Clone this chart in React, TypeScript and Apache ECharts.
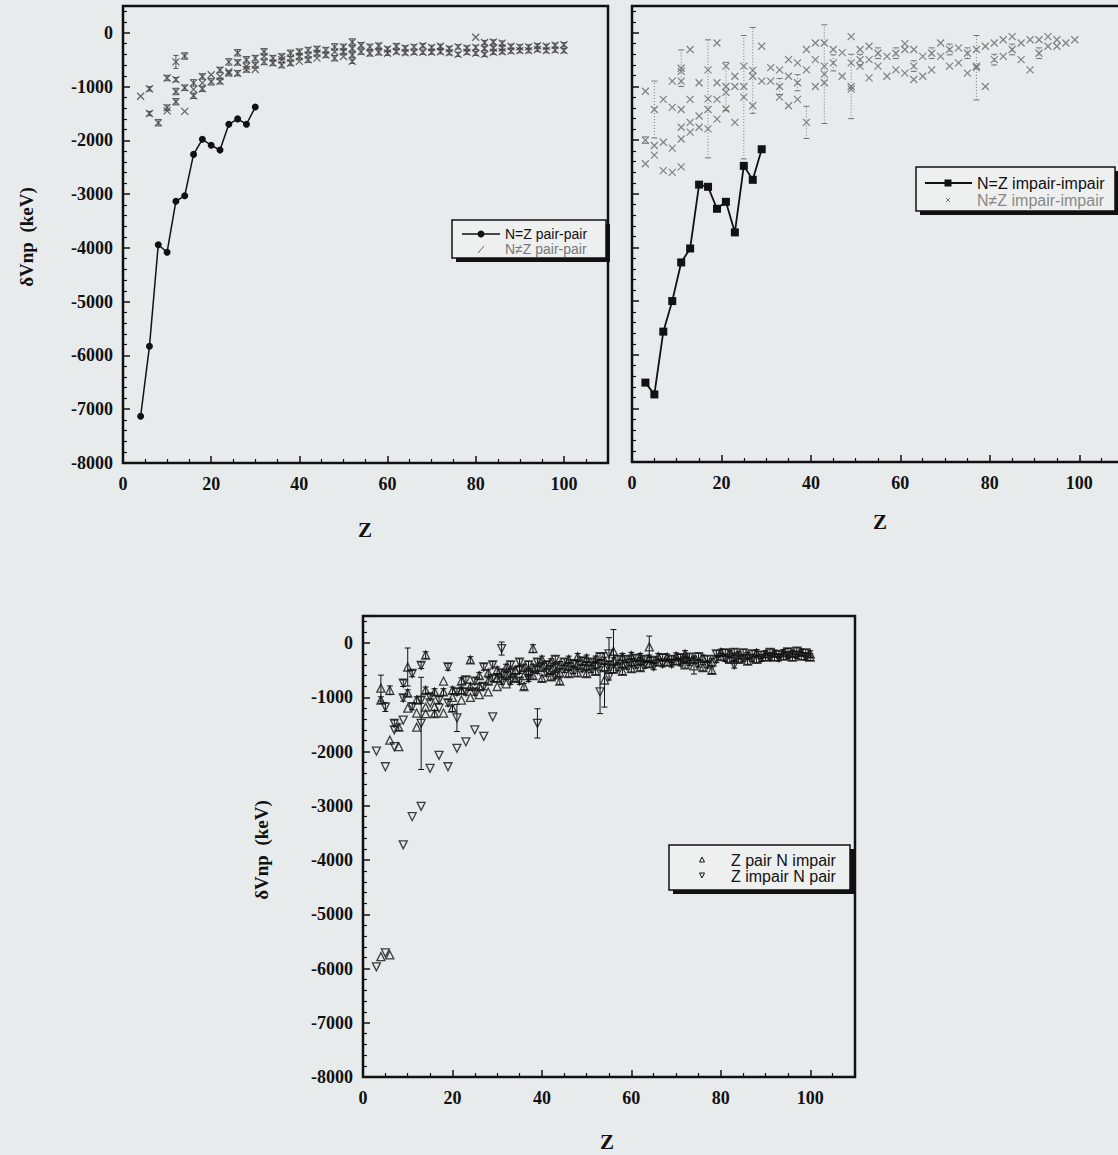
import React, { useEffect, useRef } from "react";
import * as echarts from "echarts";

// ---------- DATA ----------
// Panel 1: N=Z even-even (line)
const p1LineZ = [4, 6, 8, 10, 12, 14, 16, 18, 20, 22, 24, 26, 28, 30];
const p1LineV = [-7130, -5830, -3940, -4080, -3130, -3030, -2260, -1980, -2090, -2180, -1700, -1600, -1700, -1380];
// Panel 1: N≠Z even-even [Z, value, err]
const p1Other: number[][] = [
  [4, -1180, 0], [6, -1040, 40], [6, -1500, 40], [8, -1670, 60], [10, -840, 50], [10, -1390, 50], [10, -1450, 0],
  [12, -540, 120], [12, -870, 40], [12, -1090, 60], [12, -1280, 60], [14, -430, 60], [14, -1020, 50], [14, -1460, 0],
  [16, -930, 60], [16, -1050, 0], [16, -1170, 50], [18, -810, 50], [18, -930, 0], [18, -1040, 50], [20, -910, 60], [20, -780, 0],
  [22, -690, 50], [22, -810, 0], [22, -900, 50], [24, -540, 60], [24, -720, 0], [24, -750, 50], [26, -370, 60], [26, -550, 50], [26, -750, 50],
  [28, -500, 60], [28, -620, 0], [28, -680, 50], [30, -470, 50], [30, -600, 50], [30, -680, 0], [32, -350, 60], [32, -440, 0], [32, -540, 50],
  [34, -470, 50], [34, -560, 50], [36, -440, 50], [36, -500, 0], [36, -600, 50], [38, -380, 60], [38, -470, 0], [38, -560, 50],
  [40, -350, 50], [40, -440, 50], [40, -530, 0], [42, -320, 50], [42, -410, 0], [42, -500, 50], [44, -300, 50], [44, -380, 50], [44, -470, 0],
  [46, -320, 50], [46, -410, 50], [48, -260, 60], [48, -350, 0], [48, -470, 50], [50, -260, 50], [50, -350, 50], [50, -440, 0],
  [52, -170, 60], [52, -290, 50], [52, -410, 50], [52, -530, 40], [54, -230, 50], [54, -350, 50], [56, -260, 50], [56, -380, 50],
  [58, -240, 50], [58, -360, 50], [60, -300, 40], [60, -380, 40], [62, -250, 50], [62, -350, 40], [64, -280, 40], [64, -370, 40],
  [66, -260, 40], [66, -360, 40], [68, -240, 40], [68, -360, 40], [70, -270, 40], [70, -360, 40], [72, -250, 40], [72, -350, 40],
  [74, -290, 40], [74, -370, 40], [76, -260, 40], [76, -400, 40], [78, -280, 40], [78, -360, 40], [80, -80, 0], [80, -270, 40], [80, -380, 40],
  [82, -180, 40], [82, -290, 40], [82, -400, 40], [84, -170, 40], [84, -280, 40], [84, -360, 40], [86, -190, 40], [86, -280, 40], [86, -350, 40],
  [88, -250, 40], [88, -340, 40], [90, -260, 40], [90, -330, 40], [92, -260, 40], [92, -330, 40], [94, -240, 40], [94, -310, 40],
  [96, -250, 40], [96, -330, 40], [98, -230, 40], [98, -320, 40], [100, -220, 40], [100, -330, 40],
];

// Panel 2: N=Z odd-odd (line)
const p2LineZ = [3, 5, 7, 9, 11, 13, 15, 17, 19, 21, 23, 25, 27, 29];
const p2LineV = [-6520, -6740, -5570, -5000, -4280, -4020, -2830, -2870, -3280, -3150, -3720, -2480, -2740, -2170];
// Panel 2: N≠Z odd-odd [Z, value, err]
const p2Other: number[][] = [
  [3, -1090, 0], [3, -2440, 0], [3, -2000, 60],
  [5, -2280, 0], [5, -1430, 530], [5, -2100, 0],
  [7, -1240, 0], [7, -2040, 0], [7, -2570, 0],
  [9, -900, 0], [9, -1390, 0], [9, -2600, 0], [9, -2150, 0],
  [11, -720, 0], [11, -660, 340], [11, -900, 0], [11, -1430, 0], [11, -1760, 0], [11, -1980, 0], [11, -2500, 0],
  [13, -310, 0], [13, -1240, 0], [13, -1670, 0], [13, -1850, 0],
  [15, -930, 0], [15, -1550, 0], [15, -1760, 0],
  [17, -690, 0], [17, -1230, 1100], [17, -1430, 0], [17, -1790, 0],
  [19, -190, 0], [19, -930, 0], [19, -1240, 0], [19, -1610, 0],
  [21, -620, 0], [21, -1000, 450], [21, -1110, 0], [21, -1420, 0],
  [23, -810, 0], [23, -1000, 0], [23, -1670, 0],
  [25, -620, 0], [25, -1200, 1150], [25, -1000, 0],
  [27, -810, 0], [27, -700, 800], [27, -1360, 0],
  [29, -250, 0], [29, -900, 0],
  [31, -650, 0], [31, -900, 0],
  [33, -690, 0], [33, -1000, 150], [33, -1200, 0],
  [35, -500, 0], [35, -810, 0], [35, -1360, 0],
  [37, -560, 0], [37, -930, 150], [37, -1240, 0],
  [39, -310, 0], [39, -690, 0], [39, -1670, 300],
  [41, -190, 0], [41, -500, 0], [41, -1000, 0],
  [43, -190, 0], [43, -770, 920], [43, -620, 0], [43, -930, 0],
  [45, -310, 0], [45, -560, 150],
  [47, -370, 0], [47, -810, 0],
  [49, -70, 0], [49, -1000, 600], [49, -560, 0], [49, -1050, 0],
  [51, -310, 0], [51, -500, 100], [51, -620, 0],
  [53, -250, 0], [53, -500, 0], [53, -840, 0],
  [55, -380, 100], [55, -620, 0],
  [57, -440, 0], [57, -810, 0],
  [59, -380, 100], [59, -690, 0],
  [61, -200, 0], [61, -310, 0], [61, -750, 0],
  [63, -310, 0], [63, -620, 100], [63, -870, 0],
  [65, -440, 0], [65, -810, 0],
  [67, -380, 100], [67, -690, 0],
  [69, -190, 0], [69, -440, 0],
  [71, -310, 100], [71, -620, 0],
  [73, -280, 0], [73, -560, 0],
  [75, -380, 100], [75, -750, 0],
  [77, -650, 600], [77, -310, 0], [77, -620, 0],
  [79, -250, 0], [79, -1000, 0],
  [81, -190, 0], [81, -500, 100],
  [83, -130, 0], [83, -440, 0],
  [85, -70, 0], [85, -310, 100],
  [87, -190, 0], [87, -500, 0],
  [89, -130, 0], [89, -690, 0],
  [91, -130, 0], [91, -380, 100],
  [93, -70, 0], [93, -250, 0],
  [95, -130, 0], [95, -250, 0],
  [97, -190, 0],
  [99, -130, 0],
];

// Panel 3: Z even N odd (triangle up) [Z, value, err]
const p3ZpairNimpair: number[][] = [
  [4, -5780, 0], [4, -1050, 60], [4, -830, 240],
  [6, -5750, 0], [6, -870, 80], [6, -1790, 0],
  [8, -1550, 60], [8, -1910, 0],
  [10, -440, 350], [10, -920, 60], [10, -1200, 0],
  [12, -1550, 0], [12, -1050, 60], [12, -1290, 0],
  [14, -220, 60], [14, -870, 60], [14, -1180, 0], [14, -1300, 0],
  [16, -1170, 0], [16, -900, 60], [16, -1300, 60],
  [18, -1290, 0], [18, -900, 60], [18, -700, 0],
  [20, -870, 60], [20, -1000, 0], [20, -1200, 60],
  [22, -870, 60], [22, -1050, 0], [22, -700, 60],
  [24, -310, 60], [24, -800, 60], [24, -1000, 0],
  [26, -600, 60], [26, -800, 60], [26, -950, 0],
  [28, -550, 60], [28, -700, 60], [28, -900, 0],
  [30, -500, 60], [30, -650, 60], [30, -800, 0],
  [32, -450, 60], [32, -600, 60], [32, -750, 0],
  [34, -500, 60], [34, -650, 60],
  [36, -800, 60], [36, -450, 60], [36, -600, 0],
  [38, -100, 70], [38, -450, 60], [38, -600, 60],
  [40, -300, 60], [40, -450, 60], [40, -650, 60],
  [42, -350, 60], [42, -500, 60], [42, -620, 60],
  [44, -400, 60], [44, -550, 60], [44, -700, 60],
  [46, -300, 60], [46, -420, 60], [46, -560, 60],
  [48, -250, 60], [48, -400, 60], [48, -550, 60],
  [50, -280, 60], [50, -420, 60], [50, -560, 60],
  [52, -300, 60], [52, -400, 60], [52, -520, 60],
  [54, -320, 60], [54, -450, 60], [54, -680, 500],
  [56, -150, 400], [56, -330, 60], [56, -480, 60],
  [58, -250, 60], [58, -380, 60], [58, -520, 60],
  [60, -230, 60], [60, -350, 60], [60, -470, 60],
  [62, -250, 60], [62, -330, 60], [62, -450, 60],
  [64, -70, 200], [64, -280, 60], [64, -380, 60],
  [66, -250, 60], [66, -350, 60],
  [68, -260, 60], [68, -350, 60],
  [70, -240, 60], [70, -330, 60],
  [72, -200, 60], [72, -300, 60], [72, -400, 60],
  [74, -300, 60], [74, -420, 150],
  [76, -280, 60], [76, -450, 60],
  [78, -350, 60], [78, -500, 60],
  [80, -170, 60], [80, -250, 60],
  [82, -200, 60], [82, -300, 60],
  [84, -220, 60], [84, -300, 60],
  [86, -230, 60], [86, -330, 60],
  [88, -180, 60], [88, -300, 60],
  [90, -200, 60], [90, -260, 60],
  [92, -190, 60], [92, -260, 60],
  [94, -180, 60], [94, -240, 60],
  [96, -190, 60], [96, -260, 60],
  [98, -170, 60], [98, -240, 60],
  [100, -200, 60], [100, -260, 60],
];
// Panel 3: Z odd N even (triangle down) [Z, value, err]
const p3ZimpairNpair: number[][] = [
  [3, -5970, 0], [3, -1990, 0],
  [5, -5710, 0], [5, -2280, 0], [5, -1180, 80],
  [7, -1480, 60], [7, -1600, 0], [7, -1910, 0],
  [9, -3720, 0], [9, -740, 60], [9, -1010, 60], [9, -1420, 0],
  [11, -3200, 0], [11, -1170, 60], [11, -560, 60],
  [13, -3010, 0], [13, -410, 60], [13, -1480, 850], [13, -1050, 60],
  [15, -2310, 0], [15, -990, 60], [15, -1100, 0],
  [17, -2070, 0], [17, -1050, 60], [17, -1200, 0],
  [19, -2280, 0], [19, -440, 60], [19, -1100, 60],
  [21, -1940, 0], [21, -1380, 250], [21, -900, 60],
  [23, -1820, 0], [23, -680, 60], [23, -900, 60],
  [25, -1600, 0], [25, -700, 60], [25, -900, 60],
  [27, -1720, 0], [27, -440, 60], [27, -800, 60],
  [29, -1360, 0], [29, -400, 60], [29, -650, 60],
  [31, -100, 120], [31, -550, 60], [31, -700, 60],
  [33, -400, 60], [33, -550, 60], [33, -700, 60],
  [35, -350, 60], [35, -500, 60], [35, -700, 60],
  [37, -400, 60], [37, -550, 60], [37, -650, 60],
  [39, -1480, 270], [39, -350, 60], [39, -500, 60],
  [41, -400, 60], [41, -550, 60],
  [43, -300, 60], [43, -450, 60], [43, -600, 60],
  [45, -350, 60], [45, -480, 60],
  [47, -380, 60], [47, -500, 60],
  [49, -330, 60], [49, -470, 60],
  [51, -350, 60], [51, -480, 60],
  [53, -250, 60], [53, -380, 60], [53, -900, 400],
  [55, -200, 300], [55, -400, 60], [55, -620, 60],
  [57, -300, 60], [57, -450, 60],
  [59, -300, 60], [59, -420, 60],
  [61, -280, 60], [61, -400, 60],
  [63, -300, 60], [63, -400, 60],
  [65, -320, 60], [65, -430, 60],
  [67, -270, 60], [67, -380, 60],
  [69, -300, 60], [69, -380, 60],
  [71, -270, 60], [71, -360, 60],
  [73, -260, 60], [73, -350, 60],
  [75, -250, 60], [75, -380, 60],
  [77, -300, 60], [77, -400, 60],
  [79, -200, 60], [79, -300, 60],
  [81, -180, 60], [81, -280, 60],
  [83, -170, 60], [83, -260, 60], [83, -400, 60],
  [85, -180, 60], [85, -280, 60],
  [87, -200, 60], [87, -280, 60],
  [89, -220, 60], [89, -280, 60],
  [91, -170, 60], [91, -250, 60],
  [93, -210, 60], [93, -270, 60],
  [95, -160, 60], [95, -230, 60],
  [97, -150, 60], [97, -220, 60],
  [99, -180, 60], [99, -250, 60],
];

const xTicks = [0, 20, 40, 60, 80, 100];
const yTicks = [0, -1000, -2000, -3000, -4000, -5000, -6000, -7000, -8000];

// ---------- STYLE ----------
const PAPER = "#e8ebeb";
const INK = "#111";
const SERIF = '"Liberation Serif", "DejaVu Serif", serif';
const SANS = '"Liberation Sans", Arial, sans-serif';
const CROSS = "path://M0,0L10,10M10,0L0,10";

function mkX(gi: number) {
  return {
    type: "value", gridIndex: gi, min: 0, max: 110, interval: 20,
    axisLine: { show: true, onZero: false, lineStyle: { color: INK, width: 2 } },
    axisTick: { show: true, inside: true, length: 7, lineStyle: { color: INK, width: 1.5 } },
    minorTick: { show: true, splitNumber: 4, length: 4, lineStyle: { color: INK, width: 1.2 } },
    splitLine: { show: false },
    axisLabel: {
      show: true, margin: 12, color: INK, fontFamily: SERIF, fontWeight: "bold", fontSize: 18,
      formatter: (v: number) => (xTicks.indexOf(v) >= 0 ? String(v) : ""),
    },
  };
}
function mkY(gi: number, labels: boolean) {
  return {
    type: "value", gridIndex: gi, min: -8000, max: 500, interval: 1000,
    axisLine: { show: true, onZero: false, lineStyle: { color: INK, width: 2 } },
    axisTick: { show: true, inside: true, length: 7, lineStyle: { color: INK, width: 1.5 } },
    minorTick: { show: true, splitNumber: 5, length: 4, lineStyle: { color: INK, width: 1.2 } },
    splitLine: { show: false },
    axisLabel: {
      show: labels, margin: 10, color: INK, fontFamily: SERIF, fontWeight: "bold", fontSize: 18,
      formatter: (v: number) => (yTicks.indexOf(v) >= 0 ? String(v) : ""),
    },
  };
}

function errSeries(gi: number, data: number[][], color: string, dashed: boolean, cap: number) {
  return {
    type: "custom", xAxisIndex: gi, yAxisIndex: gi, silent: true, z: 2,
    data: data.filter((d) => d[2] > 0).map((d) => [d[0], d[1] - d[2], d[1] + d[2]]),
    encode: { x: 0, y: [1, 2] },
    renderItem: (_p: any, api: any) => {
      const lo = api.coord([api.value(0), api.value(1)]);
      const hi = api.coord([api.value(0), api.value(2)]);
      const style = { stroke: color, lineWidth: 1, lineDash: dashed ? [1, 2] : null, fill: null };
      return {
        type: "group",
        children: [
          { type: "line", shape: { x1: lo[0], y1: lo[1], x2: hi[0], y2: hi[1] }, style },
          { type: "line", shape: { x1: lo[0] - cap, y1: lo[1], x2: lo[0] + cap, y2: lo[1] }, style: { ...style, lineDash: null } },
          { type: "line", shape: { x1: hi[0] - cap, y1: hi[1], x2: hi[0] + cap, y2: hi[1] }, style: { ...style, lineDash: null } },
        ],
      };
    },
  };
}

function legendBox(x: number, y: number, w: number, h: number) {
  return [
    { type: "rect", shape: { x: x + 4, y: y + 4, width: w, height: h }, style: { fill: INK }, z: 50 },
    { type: "rect", shape: { x, y, width: w, height: h }, style: { fill: "#eef0f0", stroke: INK, lineWidth: 1.5 }, z: 51 },
  ];
}
function gText(x: number, y: number, text: string, font: string, fill: string, extra: any = {}) {
  return { type: "text", x, y, z: 52, ...extra, style: { text, font, fill, verticalAlign: "middle", ...(extra.styleExtra || {}) } };
}

export default function App() {
  const ref = useRef<HTMLDivElement>(null);
  useEffect(() => {
    const chart = echarts.init(ref.current!, null, { renderer: "svg" });
    const option: any = {
      animation: false,
      backgroundColor: PAPER,
      grid: [
        { left: 123, top: 6, width: 485, height: 457, show: true, borderColor: INK, borderWidth: 2.5 },
        { left: 632, top: 6, width: 492, height: 456, show: true, borderColor: INK, borderWidth: 2.5 },
        { left: 363, top: 616, width: 492, height: 461, show: true, borderColor: INK, borderWidth: 2.5 },
      ],
      xAxis: [mkX(0), mkX(1), mkX(2)],
      yAxis: [mkY(0, true), mkY(1, false), mkY(2, true)],
      series: [
        errSeries(0, p1Other, "#555", false, 2.5),
        {
          name: "N≠Z pair-pair", type: "scatter", xAxisIndex: 0, yAxisIndex: 0, z: 3,
          data: p1Other.map((d) => [d[0], d[1]]), symbol: CROSS, symbolSize: 7,
          itemStyle: { color: "rgba(0,0,0,0)", borderColor: "#444", borderWidth: 1.3 },
        },
        {
          name: "N=Z pair-pair", type: "line", xAxisIndex: 0, yAxisIndex: 0, z: 5,
          data: p1LineZ.map((z, i) => [z, p1LineV[i]]), symbol: "circle", symbolSize: 7,
          itemStyle: { color: INK }, lineStyle: { color: INK, width: 1.5 },
        },
        errSeries(1, p2Other, "#777", true, 3),
        {
          name: "N≠Z impair-impair", type: "scatter", xAxisIndex: 1, yAxisIndex: 1, z: 3,
          data: p2Other.map((d) => [d[0], d[1]]), symbol: CROSS, symbolSize: 7,
          itemStyle: { color: "rgba(0,0,0,0)", borderColor: "#666", borderWidth: 1.2 },
        },
        {
          name: "N=Z impair-impair", type: "line", xAxisIndex: 1, yAxisIndex: 1, z: 5,
          data: p2LineZ.map((z, i) => [z, p2LineV[i]]), symbol: "rect", symbolSize: 8,
          itemStyle: { color: INK }, lineStyle: { color: INK, width: 1.8 },
        },
        errSeries(2, p3ZpairNimpair, INK, false, 3),
        errSeries(2, p3ZimpairNpair, INK, false, 3),
        {
          name: "Z pair N impair", type: "scatter", xAxisIndex: 2, yAxisIndex: 2, z: 4,
          data: p3ZpairNimpair.map((d) => [d[0], d[1]]), symbol: "triangle", symbolSize: 8,
          itemStyle: { color: "rgba(0,0,0,0)", borderColor: INK, borderWidth: 1.3 },
        },
        {
          name: "Z impair N pair", type: "scatter", xAxisIndex: 2, yAxisIndex: 2, z: 4,
          data: p3ZimpairNpair.map((d) => [d[0], d[1]]), symbol: "triangle", symbolRotate: 180, symbolSize: 8,
          itemStyle: { color: "rgba(0,0,0,0)", borderColor: INK, borderWidth: 1.3 },
        },
      ],
      graphic: [
        // axis titles
        gText(26, 237, "δVnp  (keV)", `bold 19px ${SERIF}`, INK, { rotation: Math.PI / 2, styleExtra: { align: "center" } }),
        gText(261, 850, "δVnp  (keV)", `bold 19px ${SERIF}`, INK, { rotation: Math.PI / 2, styleExtra: { align: "center" } }),
        gText(365, 530, "Z", `bold 21px ${SERIF}`, INK, { styleExtra: { align: "center" } }),
        gText(880, 522, "Z", `bold 21px ${SERIF}`, INK, { styleExtra: { align: "center" } }),
        gText(607, 1142, "Z", `bold 21px ${SERIF}`, INK, { styleExtra: { align: "center" } }),
        // legend panel 1
        ...legendBox(452, 220, 154, 38),
        { type: "line", z: 52, shape: { x1: 462, y1: 234, x2: 500, y2: 234 }, style: { stroke: INK, lineWidth: 1.5 } },
        { type: "circle", z: 52, shape: { cx: 481, cy: 234, r: 3.5 }, style: { fill: INK } },
        gText(505, 234, "N=Z pair-pair", `14px ${SANS}`, INK),
        { type: "line", z: 52, shape: { x1: 478, y1: 253, x2: 484, y2: 246 }, style: { stroke: "#666", lineWidth: 1 } },
        gText(505, 249, "N≠Z pair-pair", `14px ${SANS}`, "#777"),
        // legend panel 2
        ...legendBox(916, 167, 199, 44),
        { type: "line", z: 52, shape: { x1: 925, y1: 183, x2: 972, y2: 183 }, style: { stroke: INK, lineWidth: 1.8 } },
        { type: "rect", z: 52, shape: { x: 944.5, y: 179.5, width: 7, height: 7 }, style: { fill: INK } },
        gText(977, 183, "N=Z impair-impair", `16px ${SANS}`, INK),
        { type: "line", z: 52, shape: { x1: 946, y1: 198, x2: 950, y2: 202 }, style: { stroke: "#777", lineWidth: 1 } },
        { type: "line", z: 52, shape: { x1: 950, y1: 198, x2: 946, y2: 202 }, style: { stroke: "#777", lineWidth: 1 } },
        gText(977, 200, "N≠Z impair-impair", `16px ${SANS}`, "#888"),
        // legend panel 3
        ...legendBox(669, 845, 181, 45),
        { type: "polygon", z: 52, shape: { points: [[699.5, 862], [704.5, 862], [702, 857]] }, style: { fill: "none", stroke: INK, lineWidth: 1 } },
        gText(731, 860, "Z pair N impair", `16px ${SANS}`, INK),
        { type: "polygon", z: 52, shape: { points: [[699.5, 873], [704.5, 873], [702, 878]] }, style: { fill: "none", stroke: INK, lineWidth: 1 } },
        gText(731, 876, "Z impair N pair", `16px ${SANS}`, INK),
      ],
    };
    chart.setOption(option);
    return () => chart.dispose();
  }, []);
  return (
    <div style={{ position: "fixed", left: 0, top: 0, width: 1118, height: 1155, overflow: "hidden", background: PAPER }}>
      <div ref={ref} style={{ width: 1130, height: 1155 }} />
    </div>
  );
}
